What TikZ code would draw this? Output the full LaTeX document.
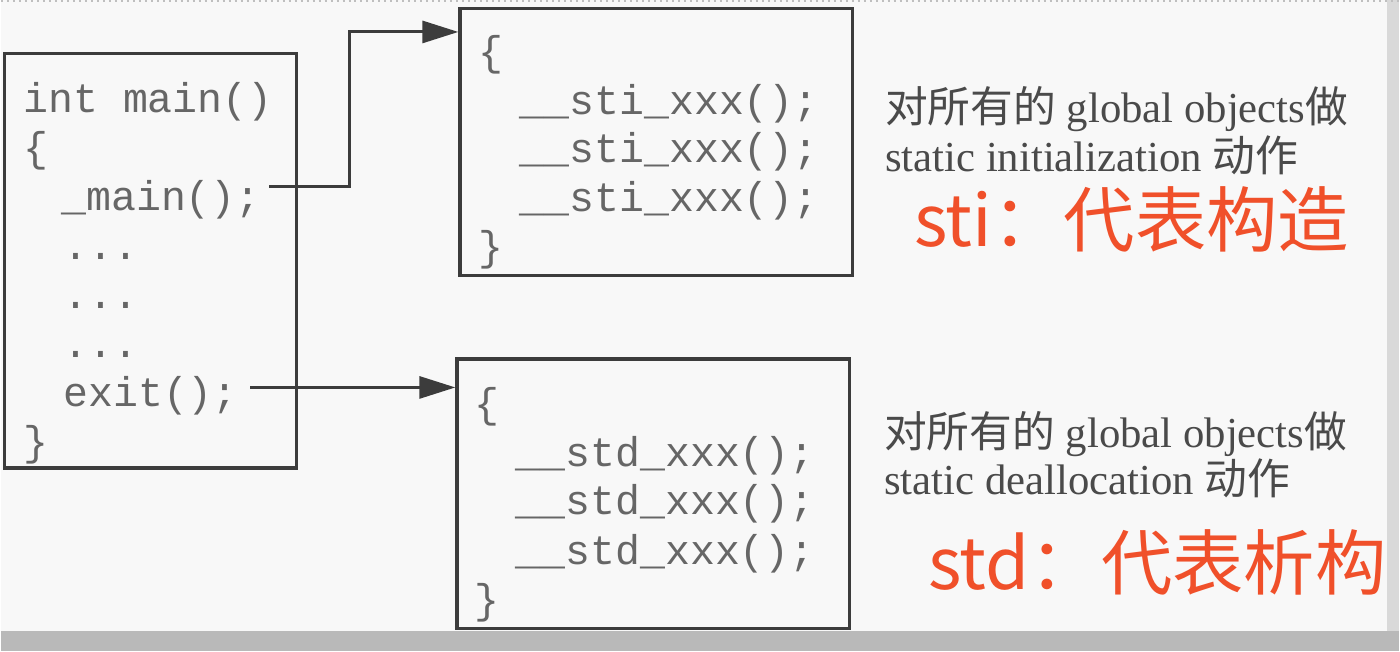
\documentclass[tikz,border=0pt]{standalone}
\usepackage{fontspec}
\setmainfont{Liberation Serif}
\setmonofont{Liberation Mono}
\newfontfamily\cjk{Noto Sans CJK SC}
\usetikzlibrary{arrows.meta}
\definecolor{bg}{HTML}{F8F8F8}
\definecolor{edge}{HTML}{3C3C3C}
\definecolor{codec}{HTML}{666666}
\definecolor{txtc}{HTML}{4A4A4A}
\definecolor{redc}{HTML}{F0502A}
\tikzset{
  box/.style={draw=edge, line width=1.6pt, anchor=north west, inner sep=0pt},
  code/.style={anchor=base west, inner sep=0pt, text=codec, font=\ttfamily\fontsize{20.8}{24}\selectfont},
  note/.style={anchor=base west, inner sep=0pt, text=txtc, font=\fontsize{21.4}{25}\selectfont},
  red/.style={anchor=base west, inner sep=0pt, text=redc, font=\cjk\fontsize{35.7}{42}\selectfont},
  arr/.style={draw=edge, line width=1.5pt, -{Triangle[length=18pt,width=11pt]}}
}
\begin{document}
\begin{tikzpicture}[x=0.5pt,y=-0.5pt]
% background
\fill[bg] (0,0) rectangle (1400,652);
\fill[gray!55] (0,632) rectangle (1400,652);
\fill[gray!30] (1388,0) rectangle (1400,632);
\draw[gray!50, line width=1pt, dotted] (0,1) -- (1400,1);
\useasboundingbox (0,0) rectangle (1400,652);

% boxes
\node[box, minimum width=146pt, minimum height=207.5pt] (mainbox) at (2,52) {};
\node[box, minimum width=196.5pt, minimum height=133.5pt] (stibox) at (458,7) {};
\node[box, minimum width=196.5pt, minimum height=135pt] (stdbox) at (455,358) {};

% main code
\node[code] (l1) at (22,113) {int main()};
\node[code] (l2) at (22,162) {\{};
\node[code] (l3) at (60,211) {\_main();};
\node[code] (l4) at (62,260) {...};
\node[code] (l5) at (62,309) {...};
\node[code] (l6) at (62,358) {...};
\node[code] (l7) at (62,407) {exit();};
\node[code] (l8) at (22,456) {\}};

% sti code
\node[code] (s1) at (478,66) {\{};
\node[code] (s2) at (519,115) {\_\_sti\_xxx();};
\node[code] (s3) at (519,163) {\_\_sti\_xxx();};
\node[code] (s4) at (519,212) {\_\_sti\_xxx();};
\node[code] (s5) at (478,261) {\}};

% std code
\node[code] (d1) at (474,418) {\{};
\node[code] (d2) at (515,467) {\_\_std\_xxx();};
\node[code] (d3) at (515,515) {\_\_std\_xxx();};
\node[code] (d4) at (515,565) {\_\_std\_xxx();};
\node[code] (d5) at (474,614) {\}};

% notes
\node[note] (n1) at (885,123) {{\cjk 对所有的} global objects{\cjk 做}};
\node[note] (n2) at (885,172) {static initialization {\cjk 动作}};
\node[note] (n3) at (884,448) {{\cjk 对所有的} global objects{\cjk 做}};
\node[note] (n4) at (884,495) {static deallocation {\cjk 动作}};
\node[red] (r1) at (914,247) {sti：代表构造};
\node[red] (r2) at (928,590) {std：代表析构};

% connectors
\coordinate (bend) at (349,187);
\coordinate (stiin) at (458,32);
\coordinate (stdin) at (455,388);
\draw[arr] (l3.east |- bend) ++(8,0) -- (bend) |- (stiin);
\draw[arr] ([xshift=6pt]l7.east |- stdin) -- (stdin);
\end{tikzpicture}
\end{document}
